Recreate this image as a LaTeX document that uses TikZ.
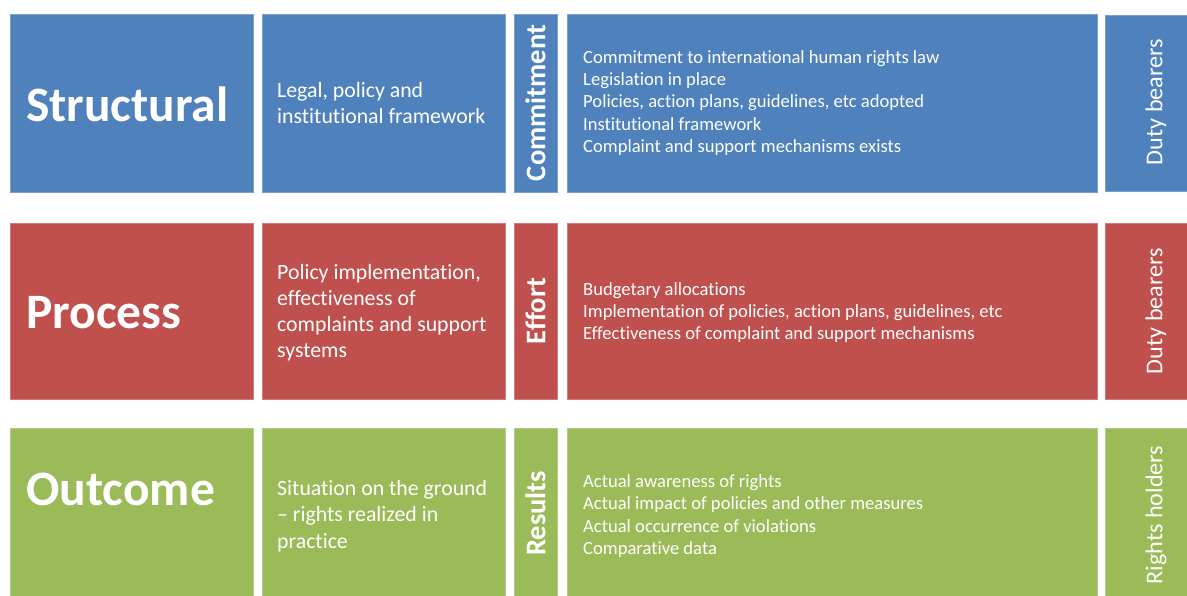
\documentclass[tikz,border=0pt]{standalone}
\usepackage{fontspec}
\setmainfont{Carlito}[Ligatures=NoCommon]
\definecolor{cblue}{HTML}{4F81BD}
\definecolor{cred}{HTML}{C0504D}
\definecolor{cgreen}{HTML}{9BBB59}
\tikzset{
  box/.style={fill=#1, draw=#1!75!white, line width=0.8pt, anchor=north west, inner sep=0pt, rectangle},
  bigtxt/.style={text=white, inner sep=0pt, anchor=west, font=\fontsize{49.5}{58}\selectfont\bfseries},
  midtxt/.style={text=white, inner sep=0pt, anchor=west, align=left, font=\fontsize{21.8}{26.2}\selectfont},
  listtxt/.style={text=white, inner sep=0pt, anchor=west, align=left, font=\fontsize{18.6}{22.3}\selectfont},
  vbold/.style={text=white, inner sep=0pt, rotate=90, font=\fontsize{28.5}{34}\selectfont\bfseries},
  vreg/.style={text=white, inner sep=0pt, rotate=90, font=\fontsize{24.2}{29}\selectfont},
}
\begin{document}
\begin{tikzpicture}[x=1pt,y=-1pt]
\clip (0,0) rectangle (1187,595);
\fill[white] (0,0) rectangle (1187,595);
% row 1
\node[box=cblue, minimum width=243pt, minimum height=178pt] (s1) at (10,13.5) {};
\node[box=cblue, minimum width=243pt, minimum height=178pt] (s2) at (262,13.5) {};
\node[box=cblue, minimum width=43pt, minimum height=178pt] (s3) at (514,13.5) {};
\node[box=cblue, minimum width=530pt, minimum height=178pt] (s4) at (567,13.5) {};
\node[box=cblue, minimum width=102pt, minimum height=176pt] (s5) at (1105,15) {};
% row 2
\node[box=cred, minimum width=243pt, minimum height=176pt] (p1) at (10,223) {};
\node[box=cred, minimum width=243pt, minimum height=176pt] (p2) at (262,223) {};
\node[box=cred, minimum width=43pt, minimum height=176pt] (p3) at (514,223) {};
\node[box=cred, minimum width=530pt, minimum height=176pt] (p4) at (567,223) {};
\node[box=cred, minimum width=102pt, minimum height=176pt] (p5) at (1105,223) {};
% row 3
\node[box=cgreen, minimum width=243pt, minimum height=178pt] (o1) at (10,427.5) {};
\node[box=cgreen, minimum width=243pt, minimum height=178pt] (o2) at (262,427.5) {};
\node[box=cgreen, minimum width=43pt, minimum height=178pt] (o3) at (514,427.5) {};
\node[box=cgreen, minimum width=530pt, minimum height=178pt] (o4) at (567,427.5) {};
\node[box=cgreen, minimum width=102pt, minimum height=178pt] (o5) at (1105,427.5) {};
% texts row 1
\node[bigtxt] (ts1) at (26,104) {Structural};
\node[midtxt] (ts2) at (277,103) {Legal, policy and\\institutional framework};
\node[vbold] (ts3) at (535.5,103) {Commitment};
\node[listtxt] (ts4) at (583,103) {Commitment to international human rights law\\Legislation in place\\Policies, action plans, guidelines, etc adopted\\Institutional framework\\Complaint and support mechanisms exists};
\node[vreg] (ts5) at (1156,102) {Duty bearers};
% texts row 2
\node[bigtxt] (tp1) at (26,313) {Process};
\node[midtxt] (tp2) at (277,312.5) {Policy implementation,\\effectiveness of\\complaints and support\\systems};
\node[vbold] (tp3) at (535.5,311) {Effort};
\node[listtxt] (tp4) at (583,312.5) {Budgetary allocations\\Implementation of policies, action plans, guidelines, etc\\Effectiveness of complaint and support mechanisms};
\node[vreg] (tp5) at (1156,311) {Duty bearers};
% texts row 3
\node[bigtxt] (to1) at (26,489) {Outcome};
\node[midtxt] (to2) at (277,516) {Situation on the ground\\-- rights realized in\\practice};
\node[vbold] (to3) at (535.5,513.5) {Results};
\node[listtxt] (to4) at (583,516) {Actual awareness of rights\\Actual impact of policies and other measures\\Actual occurrence of violations\\Comparative data};
\node[vreg] (to5) at (1156,515) {Rights holders};
\end{tikzpicture}
\end{document}
